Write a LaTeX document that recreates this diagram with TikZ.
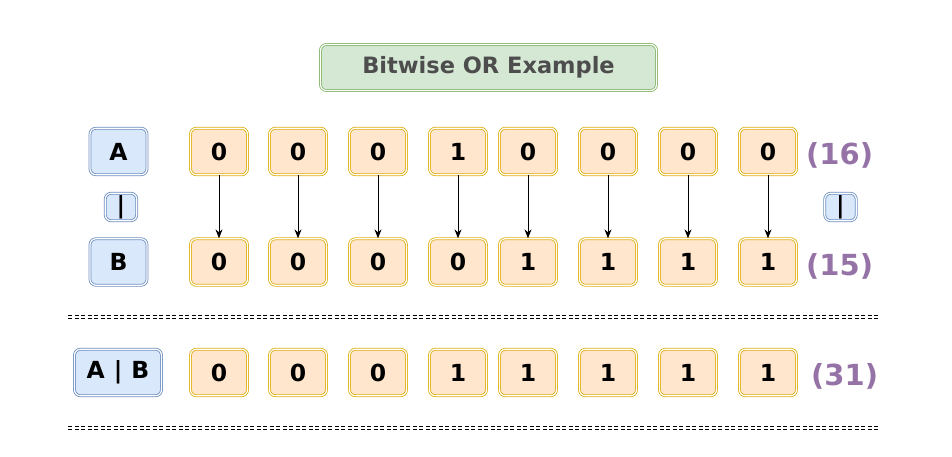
\documentclass[tikz,border=0pt]{standalone}
\usepackage{fontspec}
\setmainfont{DejaVu Sans}
\usetikzlibrary{arrows.meta}
\definecolor{bfill}{HTML}{DAE8FC}
\definecolor{bline}{HTML}{6C8EBF}
\definecolor{ofill}{HTML}{FFE6CC}
\definecolor{oline}{HTML}{E0AE10}
\definecolor{gfill}{HTML}{D5E8D4}
\definecolor{gline}{HTML}{82B366}
\definecolor{ttext}{HTML}{4D4D4D}
\definecolor{purp}{HTML}{9673A6}
\begin{document}
\begin{tikzpicture}[x=1pt,y=-1pt,
  dbl/.style={double=white, line width=0.8pt, double distance=1.2pt, rounded corners=6pt, inner sep=0pt},
  cell/.style={dbl, draw=oline, fill=ofill, minimum width=57pt, minimum height=46.5pt,
     font=\fontsize{23.5}{26}\selectfont\bfseries},
  lbl/.style={dbl, draw=bline, fill=bfill, minimum height=46.5pt,
     font=\fontsize{23.5}{26}\selectfont\bfseries},
  opbox/.style={dbl, draw=bline, fill=bfill, minimum width=31.5pt, minimum height=27.5pt,
     font=\fontsize{23.5}{26}\selectfont\bfseries},
  num/.style={text=purp, font=\fontsize{29}{32}\selectfont\bfseries, inner sep=0pt},
  arr/.style={-{Stealth[length=9pt,width=7pt]}, line width=0.9pt},
  sep/.style={dash pattern=on 4pt off 2.5pt, line width=0.8pt}]
\useasboundingbox (0,0) rectangle (952,457);
% title
\node[dbl, draw=gline, fill=gfill, minimum width=336pt, minimum height=46pt,
  text=ttext, font=\fontsize{22.5}{26}\selectfont\bfseries] (title) at (488.5,67.5) {Bitwise OR Example};
% labels
\node[lbl, minimum width=57pt] (A) at (118.5,151.5) {A};
\node[lbl, minimum width=57pt] (B) at (118.5,262) {B};
\node[opbox] (opL) at (121,207) {|};
\node[opbox] (opR) at (840.5,207) {|};
\node[lbl, minimum width=87pt] (AB) at (118,372.5) {A\hspace{9pt}|\hspace{9pt}B};
% cells
\foreach \i/\x/\a/\b/\c in {1/219/0/0/0, 2/298/0/0/0, 3/378/0/0/0, 4/458/1/0/1,
                            5/528/0/1/1, 6/608/0/1/1, 7/688/0/1/1, 8/768/0/1/1}{
  \node[cell] (a\i) at (\x,151.5) {\a};
  \node[cell] (b\i) at (\x,262) {\b};
  \node[cell] (r\i) at (\x,372.5) {\c};
  \draw[arr] (a\i.south) -- (b\i.north);
}
\node[num, anchor=west] (n16) at (806,155) {(16)};
\node[num, anchor=west] (n15) at (806,266) {(15)};
\node[num, anchor=west] (n31) at (811,376) {(31)};
% separators
\draw[sep] (68,315.5) -- (878,315.5);
\draw[sep] (68,318.5) -- (878,318.5);
\draw[sep] (68,426) -- (878,426);
\draw[sep] (68,429) -- (878,429);
\end{tikzpicture}
\end{document}
